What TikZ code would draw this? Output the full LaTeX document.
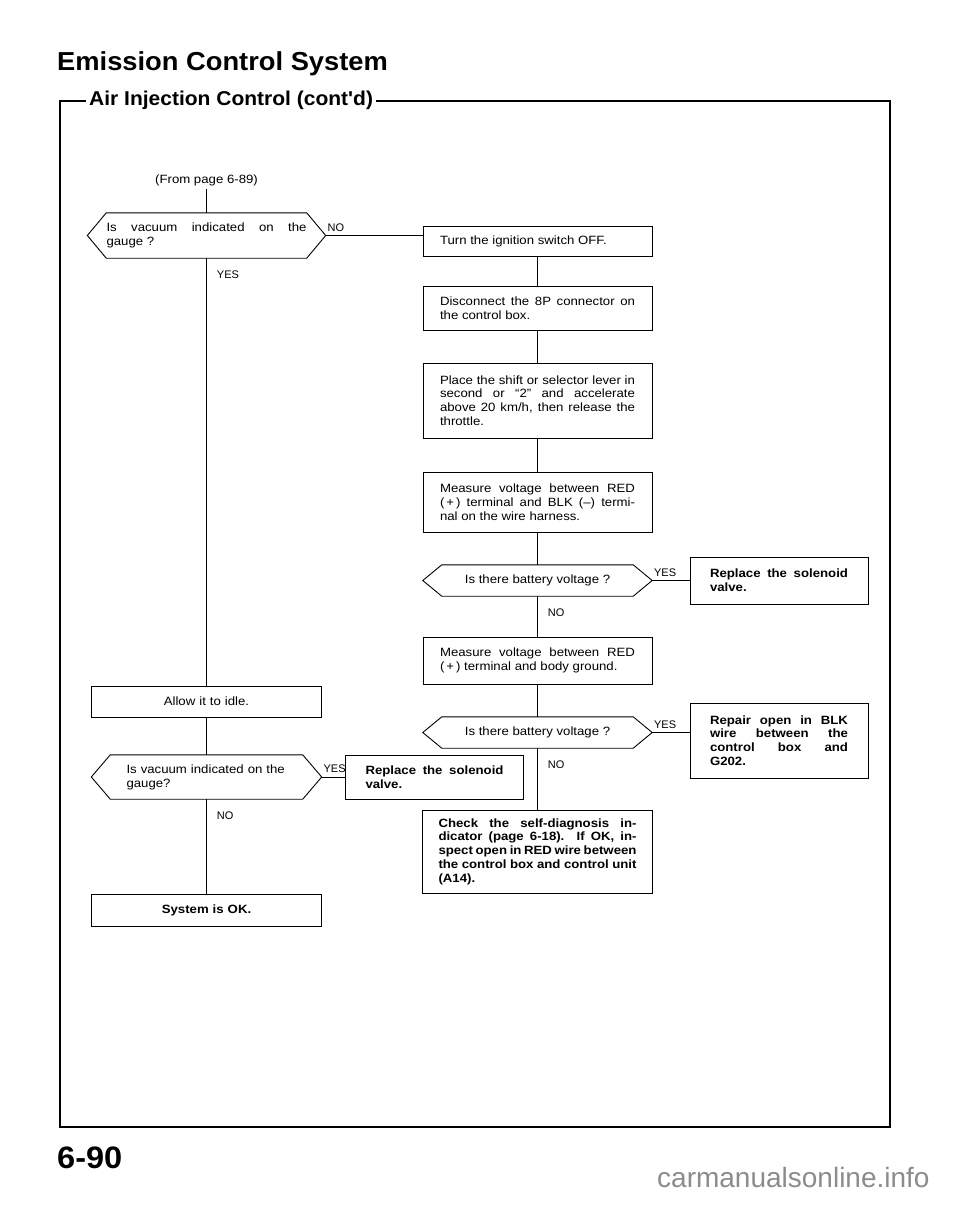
\documentclass[tikz,border=0pt]{standalone}
\usepackage{fontspec}
\setmainfont{Liberation Sans}[FakeStretch=1.1]
\newfontfamily\headfont{Liberation Sans}[FakeStretch=1.05]
\newfontfamily\markfont{Liberation Sans}
\usetikzlibrary{positioning}
\definecolor{wmgray}{RGB}{140,140,140}
\hyphenpenalty=10000
\tikzset{
	link/.style={line width=.9pt},
	stepbox/.style={draw, line width=.9pt, text width=195pt, inner xsep=17pt, inner ysep=0pt, align=justify, font=\fontsize{12}{13.8}\selectfont},
	fixbox/.style={stepbox, text width=138pt, inner xsep=20pt, font=\fontsize{12}{13.8}\selectfont\bfseries},
	idlebox/.style={stepbox, text width=195pt, inner xsep=17.5pt, align=center},
	query/.style={inner ysep=0pt, font=\fontsize{12}{13.8}\selectfont},
	tag/.style={font=\markfont\fontsize{11}{13}\selectfont, inner sep=0pt},
	tag right/.style={tag, at start, anchor=south west, xshift=1.5pt, yshift=3.5pt},
	tag down/.style={tag, at start, anchor=north west, xshift=10pt, yshift=-12pt}
}
\begin{document}
\begin{tikzpicture}[x=1pt,y=-1pt,node distance=70pt,on grid]
			\useasboundingbox (0,0) rectangle (960,1205);
			\fill[white] (0,0) rectangle (960,1205);
			\node[anchor=base west, inner sep=0pt, font=\headfont\bfseries\fontsize{26}{30}\selectfont] (title) at (57,70) {Emission Control System};
			\node[anchor=base west, inner xsep=3pt, font=\headfont\bfseries\fontsize{20}{24}\selectfont] (subtitle) at (86,105) {Air Injection Control (cont'd)};
			\node[anchor=base west, inner sep=0pt, font=\headfont\bfseries\fontsize{31}{36}\selectfont] (pageno) at (57,1168) {6-90};
			\node[anchor=base west, inner sep=0pt, text=wmgray, font=\markfont\fontsize{28}{32}\selectfont] (mark) at (657,1187) {carmanualsonline.info};
			\coordinate (frame nw) at (60,101);
			\coordinate (frame se) at (890,1127);
			\draw[line width=1.5pt] (subtitle.east |- frame nw) -- (frame nw -| frame se) -- (frame se) -- (frame se -| frame nw) -- (frame nw) -- (subtitle.west |- frame nw);
			\node[font=\fontsize{12}{13.8}\selectfont, anchor=base] (from) at (206.5,183) {(From page 6-89)};
			\node[query, text width=200pt, inner xsep=0pt, align=justify, minimum height=45pt] (d1) at (206.5,235.5) {Is vacuum indicated on the\linebreak gauge ?};
			\node[stepbox, minimum height=30pt] (b1) at (537.5,241) {Turn the ignition switch OFF.};
			\node[stepbox, minimum height=44pt] (b2) [below=67pt of b1] {Disconnect the 8P connector on\linebreak the control box.};
			\node[stepbox, minimum height=75pt] (b3) [below=92.5pt of b2] {Place the shift or selector lever in\linebreak second or ``2'' and accelerate\linebreak above 20 km/h, then release the\linebreak throttle.};
			\node[stepbox, minimum height=60pt] (b4) [below=101.5pt of b3] {Measure voltage between RED\linebreak (\,+\,) terminal and BLK (--) termi-\linebreak nal on the wire harness.};
			\node[query, minimum width=191pt, minimum height=31pt] (d2) [below=78.5pt of b4] {Is there battery voltage ?};
			\node[fixbox, minimum height=47pt] (b5) [right=241.5pt of d2] {Replace the solenoid\linebreak valve.};
			\node[stepbox, minimum height=47pt] (b6) [below=80pt of d2] {Measure voltage between RED\linebreak (\,+\,) terminal and body ground.};
			\node[query, minimum width=191pt, minimum height=31pt] (d3) [below=72pt of b6] {Is there battery voltage ?};
			\node[fixbox, minimum height=75pt] (b7) [below right=8pt and 241.5pt of d3] {Repair open in BLK\linebreak wire between the\linebreak control box and\linebreak G202.};
			\node[stepbox, minimum height=83pt, text width=198pt, inner xsep=16pt, font=\fontsize{12}{13.8}\selectfont\bfseries] (b8) [below=119pt of d3] {Check the self-diagnosis in-\linebreak dicator (page 6-18). If OK, in-\linebreak spect open in RED wire between\linebreak the control box and control unit\linebreak (A14).};
			\node[idlebox, minimum height=31pt] (allow) [below=466pt of d1] {Allow it to idle.};
			\node[query, text width=160pt, inner xsep=16pt, align=left, minimum height=44pt] (d4) [below=75.5pt of allow] {Is vacuum indicated on the\\gauge?};
			\node[fixbox, minimum height=44pt] (b9) [right=228pt of d4] {Replace the solenoid\linebreak valve.};
			\node[idlebox, minimum height=32pt, font=\fontsize{12}{13.8}\selectfont\bfseries] (sysok) [below=133pt of d4] {System is OK.};
			\coordinate (d1 tip) at ([xshift=19pt]d1.east);
			\coordinate (d2 tip) at ([xshift=19pt]d2.east);
			\coordinate (d3 tip) at ([xshift=19pt]d3.east);
			\coordinate (d4 tip) at ([xshift=19pt]d4.east);
			\foreach \q in {d1,d2,d3,d4}
				\draw[link] ([xshift=-19pt]\q.west) -- (\q.north west) -- (\q.north east)
				-- (\q\space tip) -- (\q.south east) -- (\q.south west) -- cycle;
			\path[link]
			(from.south) edge (from.south |- d1.north)
			(d1) edge node[tag down] {YES} (allow)
			(allow) edge (d4)
			(d4) edge node[tag down] {NO} (sysok)
			(d1 tip) edge node[tag right] {NO} (d1 tip -| b1.west)
			(d4 tip) edge node[tag right] {YES} (b9.west)
			(b1) edge (b2)
			(b2) edge (b3)
			(b3) edge (b4)
			(b4) edge (d2)
			(d2) edge node[tag down] {NO} (b6)
			(d2 tip) edge node[tag right] {YES} (b5.west)
			(b6) edge (d3)
			(d3) edge node[tag down] {NO} (b8)
			(d3 tip) edge node[tag right] {YES} (d3 tip -| b7.west);
		\end{tikzpicture}
\end{document}
